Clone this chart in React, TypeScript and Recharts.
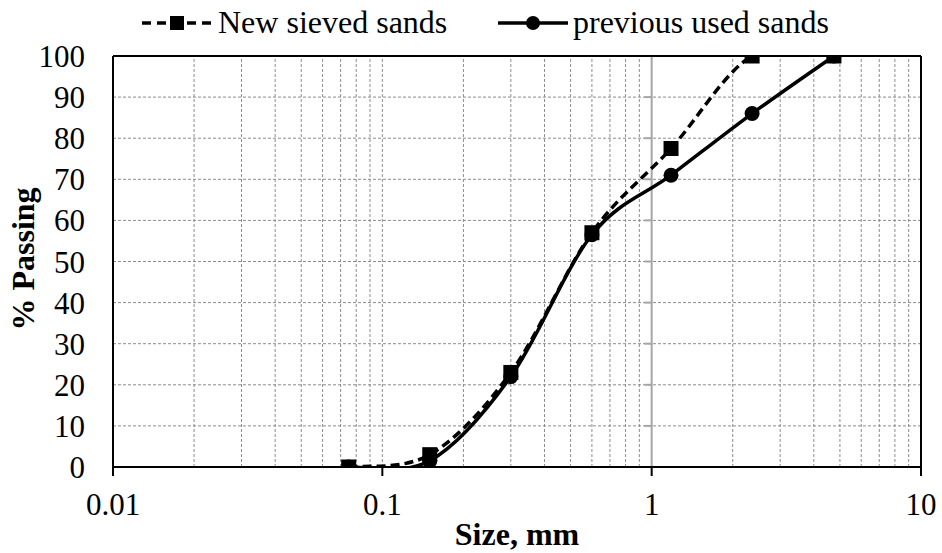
import React from "react";
import {
  LineChart,
  Line,
  XAxis,
  YAxis,
  CartesianGrid,
  ReferenceLine,
  Legend,
  Label,
} from "recharts";

// sieve sizes (mm) and % passing for each sand
const sizes = [0.075, 0.15, 0.3, 0.6, 1.18, 2.36, 4.75];
const newSieved = [0, 3, 23, 57, 77.5, 100, 100];
const previousUsed = [0, 1.5, 22, 56.5, 71, 86, 100];

const xTicks = [0.01, 0.1, 1, 10];
const yTicks = [0, 10, 20, 30, 40, 50, 60, 70, 80, 90, 100];
// minor log gridlines inside each decade
const minorX = [
  0.02, 0.03, 0.04, 0.05, 0.06, 0.07, 0.08, 0.09, 0.1,
  0.2, 0.3, 0.4, 0.5, 0.6, 0.7, 0.8, 0.9,
  2, 3, 4, 5, 6, 7, 8, 9,
];
const innerTicks = [10, 20, 30, 40, 50, 60, 70, 80, 90];

const FONT = "'Liberation Serif', 'Times New Roman', Times, serif";
const txt = { fontFamily: FONT };

const data = sizes.map((size, i) => ({
  size,
  newSieved: newSieved[i],
  previousUsed: previousUsed[i],
}));

// Excel style smoothing (Catmull-Rom through the points)
const excelSmooth = (context: any) => {
  let pts: [number, number][] = [];
  return {
    areaStart() {},
    areaEnd() {},
    lineStart() {
      pts = [];
    },
    lineEnd() {
      if (!pts.length) return;
      context.moveTo(pts[0][0], pts[0][1]);
      for (let i = 0; i < pts.length - 1; i++) {
        const p0 = pts[Math.max(i - 1, 0)];
        const p1 = pts[i];
        const p2 = pts[i + 1];
        const p3 = pts[Math.min(i + 2, pts.length - 1)];
        context.bezierCurveTo(
          p1[0] + (p2[0] - p0[0]) / 6,
          p1[1] + (p2[1] - p0[1]) / 6,
          p2[0] - (p3[0] - p1[0]) / 6,
          p2[1] - (p3[1] - p1[1]) / 6,
          p2[0],
          p2[1]
        );
      }
    },
    point(x: number, y: number) {
      pts.push([+x, +y]);
    },
  };
};

const SquareDot = (props: any) => {
  const { cx, cy } = props;
  if (cx == null || cy == null) return null;
  return <rect x={cx - 7.5} y={cy - 7.5} width={15} height={15} fill="#000" />;
};

const CircleDot = (props: any) => {
  const { cx, cy } = props;
  if (cx == null || cy == null) return null;
  return <circle cx={cx} cy={cy} r={7.5} fill="#000" />;
};

const LegendContent = () => (
  <svg width={942} height={45} style={{ display: "block" }}>
    <line x1={142} y1={23} x2={212} y2={23} stroke="#000" strokeWidth={3.5} strokeDasharray="9 6" />
    <rect x={170} y={16} width={14} height={14} fill="#000" />
    <text x={218} y={33} style={txt} fontSize={32} fill="#000">
      New sieved sands
    </text>
    <line x1={498} y1={23} x2={568} y2={23} stroke="#000" strokeWidth={3.5} />
    <circle cx={533} cy={23} r={7} fill="#000" />
    <text x={573} y={33} style={txt} fontSize={32} fill="#000">
      previous used sands
    </text>
  </svg>
);

export default function App() {
  return (
    <div style={{ position: "absolute", left: 0, top: 0, background: "#fff", fontFamily: FONT }}>
      <LineChart
        width={942}
        height={553}
        data={data}
        margin={{ top: 56, right: 21, bottom: 0, left: 0 }}
        style={txt}
      >
        <CartesianGrid vertical={false} stroke="#8c8c8c" strokeDasharray="3 2" />
        {minorX.map((v) => (
          <ReferenceLine key={v} x={v} stroke="#8c8c8c" strokeDasharray="3 2" />
        ))}
        <ReferenceLine x={1} stroke="#a6a6a6" strokeWidth={2} />
        {innerTicks.map((v) => (
          <ReferenceLine
            key={"t" + v}
            segment={[
              { x: 0.94, y: v },
              { x: 1, y: v },
            ]}
            stroke="#a6a6a6"
            strokeWidth={2}
          />
        ))}
        <ReferenceLine y={100} stroke="#000" strokeWidth={2} />
        <ReferenceLine x={10} stroke="#000" strokeWidth={2} />
        <XAxis
          dataKey="size"
          type="number"
          scale="log"
          domain={[0.01, 10]}
          ticks={xTicks}
          allowDataOverflow
          height={86}
          tickSize={9}
          tickMargin={17}
          axisLine={{ stroke: "#000", strokeWidth: 2 }}
          tickLine={{ stroke: "#000", strokeWidth: 2 }}
          tick={{ fill: "#000", fontSize: 31, style: txt }}
          tickFormatter={(v: number) => String(v)}
        >
          <Label
            content={(p: any) => (
              <text
                x={p.viewBox.x + p.viewBox.width / 2}
                y={545}
                textAnchor="middle"
                style={txt}
                fontSize={32}
                fontWeight="bold"
                fill="#000"
              >
                Size, mm
              </text>
            )}
          />
        </XAxis>
        <YAxis
          type="number"
          domain={[0, 100]}
          ticks={yTicks}
          allowDataOverflow
          width={113}
          tickSize={0}
          tickMargin={28}
          axisLine={{ stroke: "#000", strokeWidth: 2 }}
          tickLine={false}
          tick={{ fill: "#000", fontSize: 31, style: txt }}
        >
          <Label
            content={() => (
              <text
                x={34}
                y={259}
                transform="rotate(-90, 34, 259)"
                textAnchor="middle"
                style={txt}
                fontSize={32}
                fontWeight="bold"
                fill="#000"
              >
                % Passing
              </text>
            )}
          />
        </YAxis>
        <Legend
          layout="horizontal"
          verticalAlign="middle"
          align="center"
          wrapperStyle={{ top: 0, left: 0, width: 942, height: 45 }}
          content={() => <LegendContent />}
        />
        <Line
          dataKey="previousUsed"
          name="previous used sands"
          type={excelSmooth as any}
          stroke="#000"
          strokeWidth={3.5}
          dot={<CircleDot />}
          activeDot={false}
          isAnimationActive={false}
        />
        <Line
          dataKey="newSieved"
          name="New sieved sands"
          type={excelSmooth as any}
          stroke="#000"
          strokeWidth={3.5}
          strokeDasharray="9 5"
          dot={<SquareDot />}
          activeDot={false}
          isAnimationActive={false}
        />
      </LineChart>
    </div>
  );
}
